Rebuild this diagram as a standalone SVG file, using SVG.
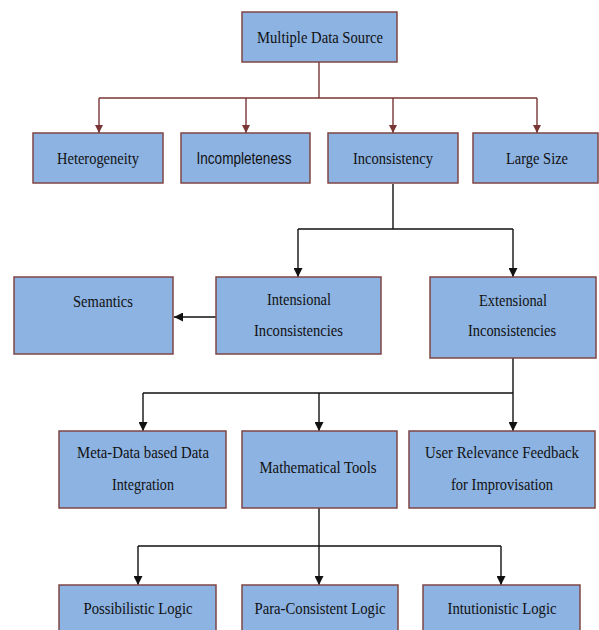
<svg xmlns="http://www.w3.org/2000/svg" width="599" height="630" viewBox="0 0 599 630">
<defs>
<style>
.box{fill:#8db3e2;stroke:#7f4545;stroke-width:1.5}
.t{font-family:"Liberation Serif","Times New Roman",serif;font-size:17px;fill:#111;text-anchor:middle}
.s{font-family:"Liberation Sans",Arial,sans-serif;font-size:16px;fill:#111;text-anchor:middle}
.cr{fill:none;stroke:#7a3535;stroke-width:1.4}
.cb{fill:none;stroke:#111;stroke-width:1.4}
</style>
<marker id="ar" viewBox="0 0 10 10" refX="10" refY="5" markerWidth="8" markerHeight="8" markerUnits="userSpaceOnUse" orient="auto"><path d="M0,0 L10,5 L0,10 z" fill="#7a3535"/></marker>
<marker id="ab" viewBox="0 0 10 10" refX="10" refY="5" markerWidth="9" markerHeight="9" markerUnits="userSpaceOnUse" orient="auto"><path d="M0,0 L10,5 L0,10 z" fill="#111"/></marker>
</defs>
<rect width="599" height="630" fill="#fff"/>
<g id="connectors">
<path class="cr" d="M319,62 V98 M99,98 H537"/>
<path class="cr" d="M99,98 V133" marker-end="url(#ar)"/>
<path class="cr" d="M246,98 V133" marker-end="url(#ar)"/>
<path class="cr" d="M393,98 V133" marker-end="url(#ar)"/>
<path class="cr" d="M537,98 V133" marker-end="url(#ar)"/>
<path class="cb" d="M393,184 V229 M298,229 H513"/>
<path class="cb" d="M298,229 V277" marker-end="url(#ab)"/>
<path class="cb" d="M513,229 V277" marker-end="url(#ab)"/>
<path class="cb" d="M216,317 H174" marker-end="url(#ab)"/>
<path class="cb" d="M513,358 V393 M143,393 H513"/>
<path class="cb" d="M143,393 V431" marker-end="url(#ab)"/>
<path class="cb" d="M319,393 V431" marker-end="url(#ab)"/>
<path class="cb" d="M513,393 V431" marker-end="url(#ab)"/>
<path class="cb" d="M319,508 V546 M138,546 H501"/>
<path class="cb" d="M138,546 V585" marker-end="url(#ab)"/>
<path class="cb" d="M319,546 V585" marker-end="url(#ab)"/>
<path class="cb" d="M501,546 V585" marker-end="url(#ab)"/>
</g>
<g id="n-source"><rect class="box" x="242" y="12" width="155" height="50"/><text class="t" x="320" y="43" textLength="126" lengthAdjust="spacingAndGlyphs">Multiple Data Source</text></g>
<g id="n-hetero"><rect class="box" x="33" y="133" width="130" height="50"/><text class="t" x="98" y="164" textLength="82" lengthAdjust="spacingAndGlyphs">Heterogeneity</text></g>
<g id="n-incomp"><rect class="box" x="181" y="133" width="129" height="50"/><text class="s" x="244" y="164" textLength="95" lengthAdjust="spacingAndGlyphs">Incompleteness</text></g>
<g id="n-incons"><rect class="box" x="328" y="133" width="130" height="50"/><text class="t" x="393" y="164" textLength="80" lengthAdjust="spacingAndGlyphs">Inconsistency</text></g>
<g id="n-large"><rect class="box" x="473" y="133" width="125" height="50"/><text class="t" x="537" y="164" textLength="62" lengthAdjust="spacingAndGlyphs">Large Size</text></g>
<g id="n-semantics"><rect class="box" x="14" y="277" width="159" height="77"/><text class="t" x="103" y="307" textLength="60" lengthAdjust="spacingAndGlyphs">Semantics</text></g>
<g id="n-intensional"><rect class="box" x="216" y="277" width="165" height="77"/><text class="t" x="299" y="305" textLength="64" lengthAdjust="spacingAndGlyphs">Intensional</text><text class="t" x="298.5" y="336" textLength="89" lengthAdjust="spacingAndGlyphs">Inconsistencies</text></g>
<g id="n-extensional"><rect class="box" x="430" y="277" width="166" height="81"/><text class="t" x="513" y="306" textLength="68" lengthAdjust="spacingAndGlyphs">Extensional</text><text class="t" x="512" y="336" textLength="88" lengthAdjust="spacingAndGlyphs">Inconsistencies</text></g>
<g id="n-meta"><rect class="box" x="59" y="431" width="167" height="77"/><text class="t" x="143" y="458" textLength="132" lengthAdjust="spacingAndGlyphs">Meta-Data based Data</text><text class="t" x="143" y="490" textLength="62" lengthAdjust="spacingAndGlyphs">Integration</text></g>
<g id="n-math"><rect class="box" x="242" y="431" width="155" height="77"/><text class="t" x="318" y="473" textLength="117" lengthAdjust="spacingAndGlyphs">Mathematical Tools</text></g>
<g id="n-user"><rect class="box" x="409" y="431" width="186" height="77"/><text class="t" x="502" y="458" textLength="154" lengthAdjust="spacingAndGlyphs">User Relevance Feedback</text><text class="t" x="502" y="490" textLength="102" lengthAdjust="spacingAndGlyphs">for Improvisation</text></g>
<g id="n-possib"><rect class="box" x="59" y="585" width="157" height="60"/><text class="t" x="138" y="614" textLength="109" lengthAdjust="spacingAndGlyphs">Possibilistic Logic</text></g>
<g id="n-para"><rect class="box" x="242" y="585" width="156" height="60"/><text class="t" x="320" y="614" textLength="131" lengthAdjust="spacingAndGlyphs">Para-Consistent Logic</text></g>
<g id="n-intu"><rect class="box" x="423" y="585" width="157" height="60"/><text class="t" x="502" y="614" textLength="109" lengthAdjust="spacingAndGlyphs">Intutionistic Logic</text></g>
</svg>
